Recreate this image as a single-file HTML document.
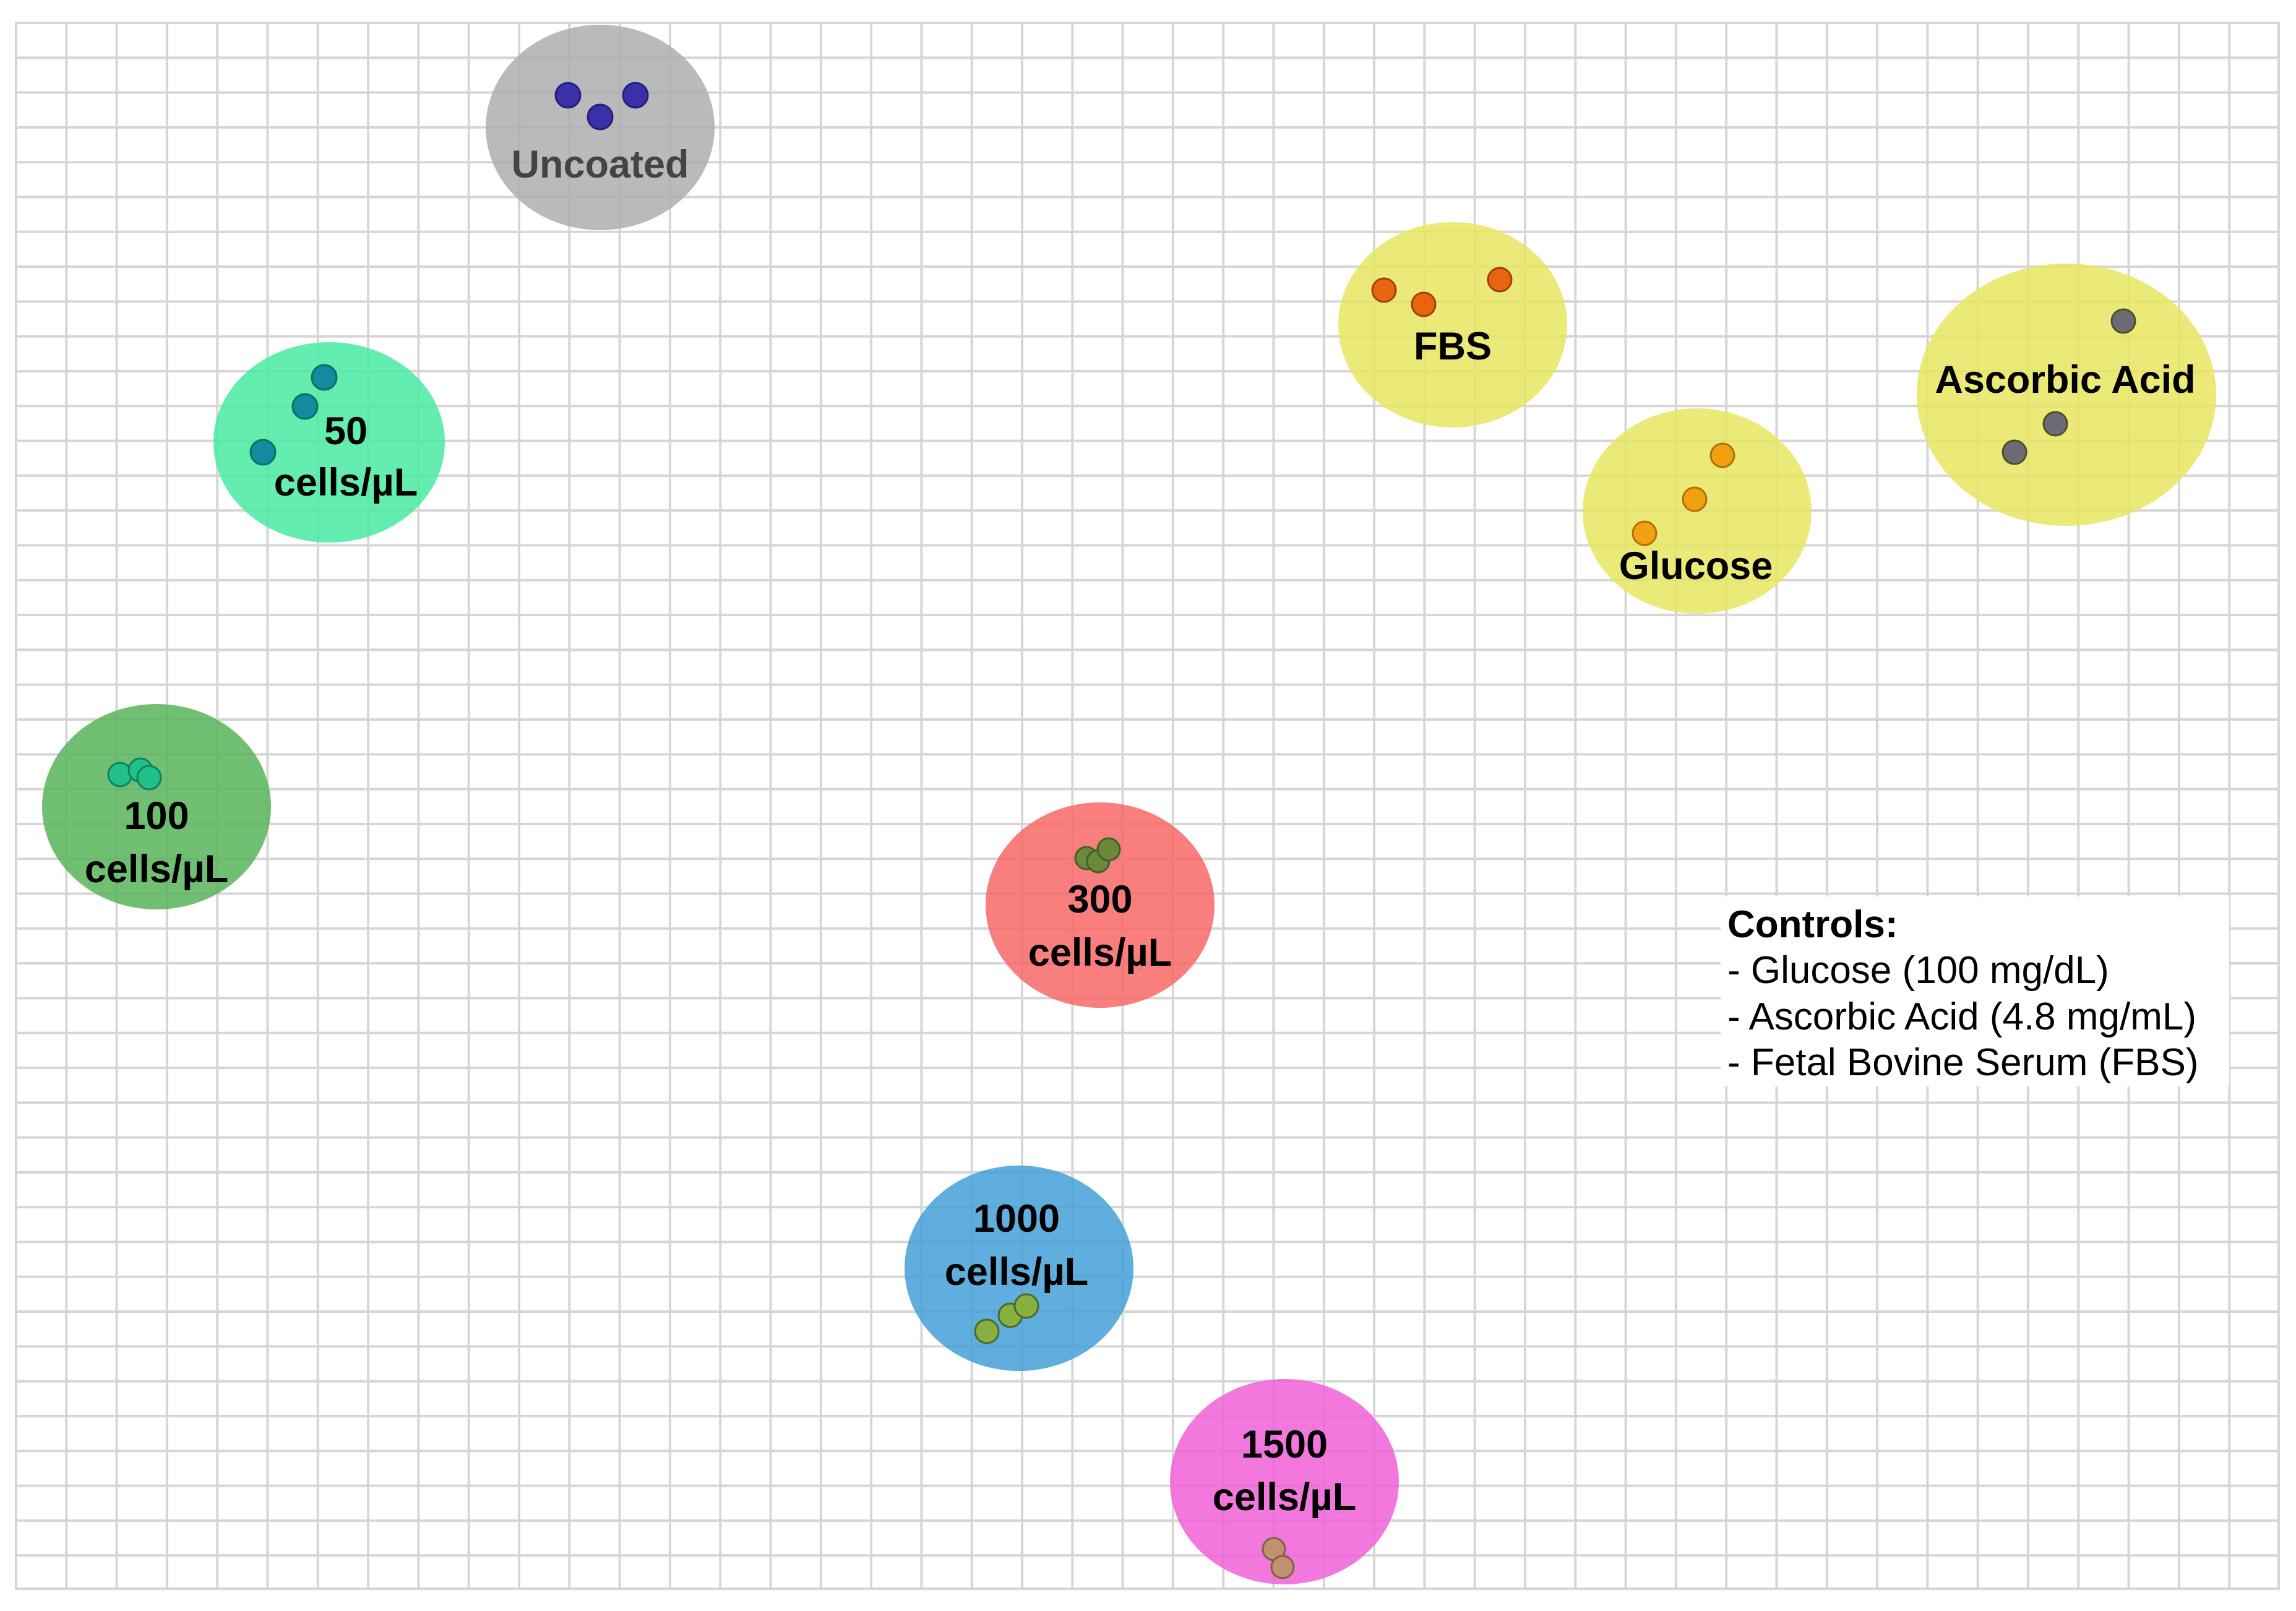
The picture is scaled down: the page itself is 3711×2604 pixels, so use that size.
<!DOCTYPE html>
<html><head><meta charset="utf-8"><style>
html,body{margin:0;padding:0;background:#fff;}
svg{display:block;}
</style></head><body>
<svg width="3711" height="2604" viewBox="0 0 3711 2604" xmlns="http://www.w3.org/2000/svg">
<defs>
<pattern id="g" x="24" y="35" width="81.3" height="56.3" patternUnits="userSpaceOnUse">
<rect width="81.3" height="56.3" fill="none"/>
<line x1="0" y1="0" x2="0" y2="56.3" stroke="#d6d6d6" stroke-width="8"/>
<line x1="0" y1="0" x2="81.3" y2="0" stroke="#d6d6d6" stroke-width="8"/>
</pattern>
</defs>
<rect width="3711" height="2604" fill="#fff"/>
<rect x="24" y="35" width="3659" height="2534" fill="url(#g)"/>
<line x1="3683" y1="35" x2="3683" y2="2570" stroke="#d6d6d6" stroke-width="4"/>
<line x1="24" y1="2568" x2="3685" y2="2568" stroke="#d6d6d6" stroke-width="4"/>

<g fill-opacity="0.85">
<ellipse cx="970" cy="206" rx="185" ry="166" fill="#aeaeae"/>
<ellipse cx="532" cy="715" rx="187" ry="162" fill="#48eaa0"/>
<ellipse cx="253" cy="1304" rx="185" ry="166" fill="#58b45a"/>
<ellipse cx="2348" cy="525" rx="185" ry="166" fill="#e8e660"/>
<ellipse cx="2743" cy="826" rx="185" ry="166" fill="#e8e660"/>
<ellipse cx="3340" cy="638" rx="242" ry="212" fill="#e8e660"/>
<ellipse cx="1778" cy="1463" rx="185" ry="166" fill="#f86868"/>
<ellipse cx="1647" cy="2050" rx="185" ry="166" fill="#44a0d8"/>
<ellipse cx="2076" cy="2395" rx="185" ry="166" fill="#f060d8"/>
</g>

<g stroke-width="3">
<g fill="#3a30a8" stroke="#22207a"><circle cx="918" cy="154" r="20"/><circle cx="970" cy="189" r="20"/><circle cx="1027" cy="154" r="20"/></g>
<g fill="#138aa0" stroke="#0a7060"><circle cx="524" cy="610" r="20"/><circle cx="493" cy="657" r="20"/><circle cx="425" cy="731" r="20"/></g>
<g fill="#20c088" stroke="#108060"><circle cx="194" cy="1252" r="19"/><circle cx="227" cy="1245" r="19"/><circle cx="241" cy="1257" r="19"/></g>
<g fill="#e86410" stroke="#a04008"><circle cx="2237" cy="469" r="19"/><circle cx="2301" cy="492" r="19"/><circle cx="2424" cy="452" r="19"/></g>
<g fill="#f0a010" stroke="#b07008"><circle cx="2784" cy="736" r="19"/><circle cx="2739" cy="807" r="19"/><circle cx="2658" cy="862" r="19"/></g>
<g fill="#6c6c78" stroke="#505020"><circle cx="3432" cy="519" r="19"/><circle cx="3322" cy="685" r="19"/><circle cx="3256" cy="731" r="19"/></g>
<g fill="#6a8a3a" stroke="#40602a"><circle cx="1756" cy="1387" r="18"/><circle cx="1775" cy="1392" r="18"/><circle cx="1792" cy="1373" r="18"/></g>
<g fill="#88b040" stroke="#4a6a2a"><circle cx="1595" cy="2152" r="19"/><circle cx="1633" cy="2126" r="19"/><circle cx="1659" cy="2111" r="19"/></g>
<g fill="#c09070" stroke="#806040"><circle cx="2059" cy="2504" r="18"/><circle cx="2073" cy="2533" r="18"/></g>
</g>

<g font-family="'Liberation Sans', sans-serif" font-weight="bold" font-size="63" text-anchor="middle" fill="#000">
<text x="970" y="287" fill="#444">Uncoated</text>
<text x="559" y="718">50</text>
<text x="559" y="801">cells/µL</text>
<text x="253" y="1340">100</text>
<text x="253" y="1426">cells/µL</text>
<text x="2348" y="581">FBS</text>
<text x="2741" y="936">Glucose</text>
<text x="3338" y="635">Ascorbic Acid</text>
<text x="1778" y="1475">300</text>
<text x="1778" y="1561">cells/µL</text>
<text x="1643" y="1991">1000</text>
<text x="1643" y="2077">cells/µL</text>
<text x="2076" y="2356">1500</text>
<text x="2076" y="2441">cells/µL</text>
</g>

<rect x="2781" y="1449" width="822" height="307" fill="#fff"/>
<g font-family="'Liberation Sans', sans-serif" font-size="62" fill="#000">
<text x="2792" y="1515" font-weight="bold">Controls:</text>
<text x="2792" y="1589">- Glucose (100 mg/dL)</text>
<text x="2792" y="1664">- Ascorbic Acid (4.8 mg/mL)</text>
<text x="2792" y="1738">- Fetal Bovine Serum (FBS)</text>
</g>
</svg>
</body></html>
